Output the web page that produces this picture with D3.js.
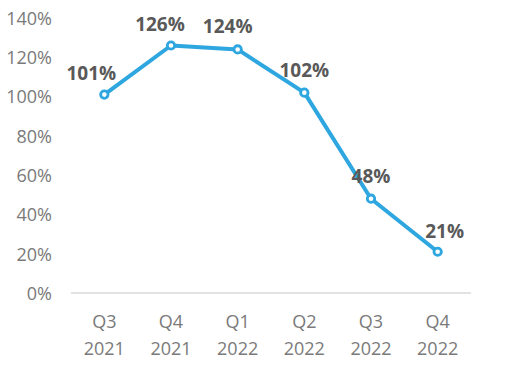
<!DOCTYPE html>
<html>
<head>
<meta charset="utf-8">
<script src="https://cdn.jsdelivr.net/npm/d3@7"></script>
<style>
  body { margin: 0; background: #fff; }
  text { font-family: "Open Sans", sans-serif; }
</style>
</head>
<body>
<script>
// Chart data
var quarters = ["Q3", "Q4", "Q1", "Q2", "Q3", "Q4"];
var years = ["2021", "2021", "2022", "2022", "2022", "2022"];
var values = [101, 126, 124, 102, 48, 21];
var yTicks = [0, 20, 40, 60, 80, 100, 120, 140];

var w = 526, h = 368;

var svg = d3.select("body")
    .append("svg")
    .attr("width", w)
    .attr("height", h);

// Band scale for categories, linear scale for percentages
var x = d3.scaleBand()
    .domain(d3.range(values.length))
    .range([71, 471]);

var y = d3.scaleLinear()
    .domain([0, 140])
    .range([293, 18]);

var cx = function(i){ return x(i) + x.bandwidth() / 2; };

// Baseline at 0%
svg.append("line")
    .attr("x1", 71)
    .attr("x2", 471)
    .attr("y1", y(0))
    .attr("y2", y(0))
    .style("stroke", "#d9d9d9")
    .style("stroke-width", 1.3);

// Y axis labels
var yAxis = d3.axisLeft(y)
    .tickValues(yTicks)
    .tickSize(0)
    .tickPadding(0)
    .tickFormat(function(d){ return d + "%"; });

var yG = svg.append("g")
    .attr("transform", "translate(52,0)")
    .call(yAxis);
yG.select(".domain").remove();
yG.selectAll("text")
    .attr("dy", "0.35em")
    .style("font-family", "'Open Sans', sans-serif")
    .style("font-size", "18px")
    .style("fill", "#7a7a7a");

// X axis labels (two lines)
var xLabels = svg.selectAll(".xlab")
    .data(values)
    .enter()
    .append("text")
    .attr("class", "xlab")
    .attr("text-anchor", "middle")
    .style("font-size", "18px")
    .style("fill", "#7a7a7a");

xLabels.append("tspan")
    .attr("x", function(d, i){ return cx(i); })
    .attr("y", 328)
    .text(function(d, i){ return quarters[i]; });

xLabels.append("tspan")
    .attr("x", function(d, i){ return cx(i); })
    .attr("y", 355)
    .text(function(d, i){ return years[i]; });

// Line
var line = d3.line()
    .x(function(d, i){ return cx(i); })
    .y(function(d){ return y(d); });

svg.append("path")
    .datum(values)
    .attr("d", line)
    .style("fill", "none")
    .style("stroke", "#2ea6df")
    .style("stroke-width", 4)
    .style("stroke-linejoin", "round");

// Markers
svg.selectAll(".dot")
    .data(values)
    .enter()
    .append("circle")
    .attr("class", "dot")
    .attr("cx", function(d, i){ return cx(i); })
    .attr("cy", function(d){ return y(d); })
    .attr("r", 3.7)
    .style("fill", "#fff")
    .style("stroke", "#2ea6df")
    .style("stroke-width", 2.8);

// Data labels, nudged like the original
var nudge = [[-13, -15], [-11, -15], [-10, -16], [0, -16], [0, -16], [7, -14]];

svg.selectAll(".lab")
    .data(values)
    .enter()
    .append("text")
    .attr("class", "lab")
    .attr("text-anchor", "middle")
    .attr("x", function(d, i){ return cx(i) + nudge[i][0]; })
    .attr("y", function(d, i){ return y(d) + nudge[i][1]; })
    .style("font-size", "19px")
    .style("font-weight", "bold")
    .style("fill", "#595959")
    .text(function(d){ return d + "%"; });
</script>
</body>
</html>
